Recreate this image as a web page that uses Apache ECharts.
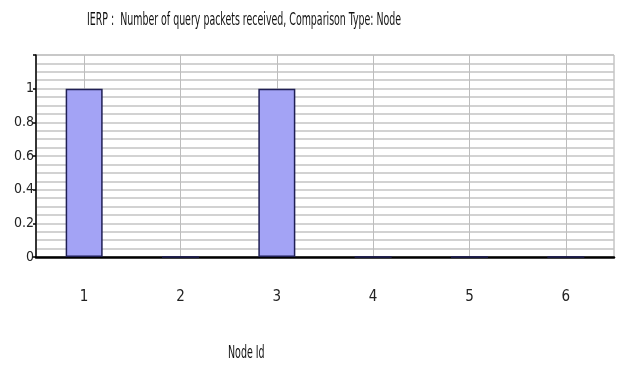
<!DOCTYPE html>
<html>
<head>
<meta charset="utf-8">
<script src="https://cdn.jsdelivr.net/npm/echarts@6/dist/echarts.min.js"></script>
<style>
  html, body { margin: 0; padding: 0; background: #fff; }
  #chart { width: 618px; height: 365px; }
</style>
</head>
<body>
<div id="chart"></div>
<script>
const nodeIds = ['1', '2', '3', '4', '5', '6']
const packetsReceived = [1, 0, 1, 0, 0, 0]

const TITLE = 'IERP :  Number of query packets received, Comparison Type: Node'
const X_NAME = 'Node Id'

const FONT = "'DejaVu Sans Condensed', 'Liberation Sans Narrow', sans-serif"
const BAR_FILL = '#a3a3f5'
const BAR_EDGE = '#1f1f55'
const GRID_LINE = '#c4c4c4'

// the original uses a very narrow, tall font, so squeeze the text horizontally
function narrowText(text, x, y, size, squeeze) {
  return {
    type: 'text',
    x, y,
    scaleX: squeeze,
    silent: true,
    style: { text, font: size + 'px ' + FONT, fill: '#111' },
  }
}

const chart = echarts.init(document.getElementById('chart'))

chart.setOption({
  animation: false,
  backgroundColor: '#fff',
  graphic: [
    narrowText(TITLE, 87, 12, 17, 0.617),
    narrowText(X_NAME, 228, 345, 17, 0.62),
  ],
  grid: {
    left: 36, right: 4, top: 55, bottom: 108,
    show: true, borderColor: '#a8a8a8', borderWidth: 1,
  },
  xAxis: {
    type: 'category',
    data: nodeIds,
    axisLine: { lineStyle: { color: '#000', width: 2.5 } },
    axisTick: { alignWithLabel: true, length: 10, lineStyle: { color: '#000', width: 2 } },
    axisLabel: { margin: 33, fontFamily: FONT, fontSize: 15, color: '#222' },
    splitLine: { show: true, alignWithLabel: true, lineStyle: { color: '#bdbdbd', width: 1 } },
  },
  yAxis: {
    type: 'value',
    min: 0,
    max: 1.2,
    interval: 0.2,
    axisLine: { show: true, lineStyle: { color: '#000', width: 1.5 } },
    axisTick: { show: true, length: 3, lineStyle: { color: '#000', width: 1.5 } },
    axisLabel: {
      margin: 2,
      fontFamily: FONT, fontSize: 14, color: '#222',
      formatter: (v) => (v > 1.01 ? '' : String(Math.round(v * 10) / 10)),
    },
    splitLine: { lineStyle: { color: GRID_LINE, width: 1.5 } },
    minorTick: { show: false, splitNumber: 4 },
    minorSplitLine: { show: true, lineStyle: { color: GRID_LINE, width: 1.5 } },
  },
  series: [
    {
      type: 'bar',
      data: packetsReceived,
      barWidth: 37,
      itemStyle: { color: BAR_FILL, borderColor: BAR_EDGE, borderWidth: 1.5 },
    },
  ],
})
</script>
</body>
</html>
